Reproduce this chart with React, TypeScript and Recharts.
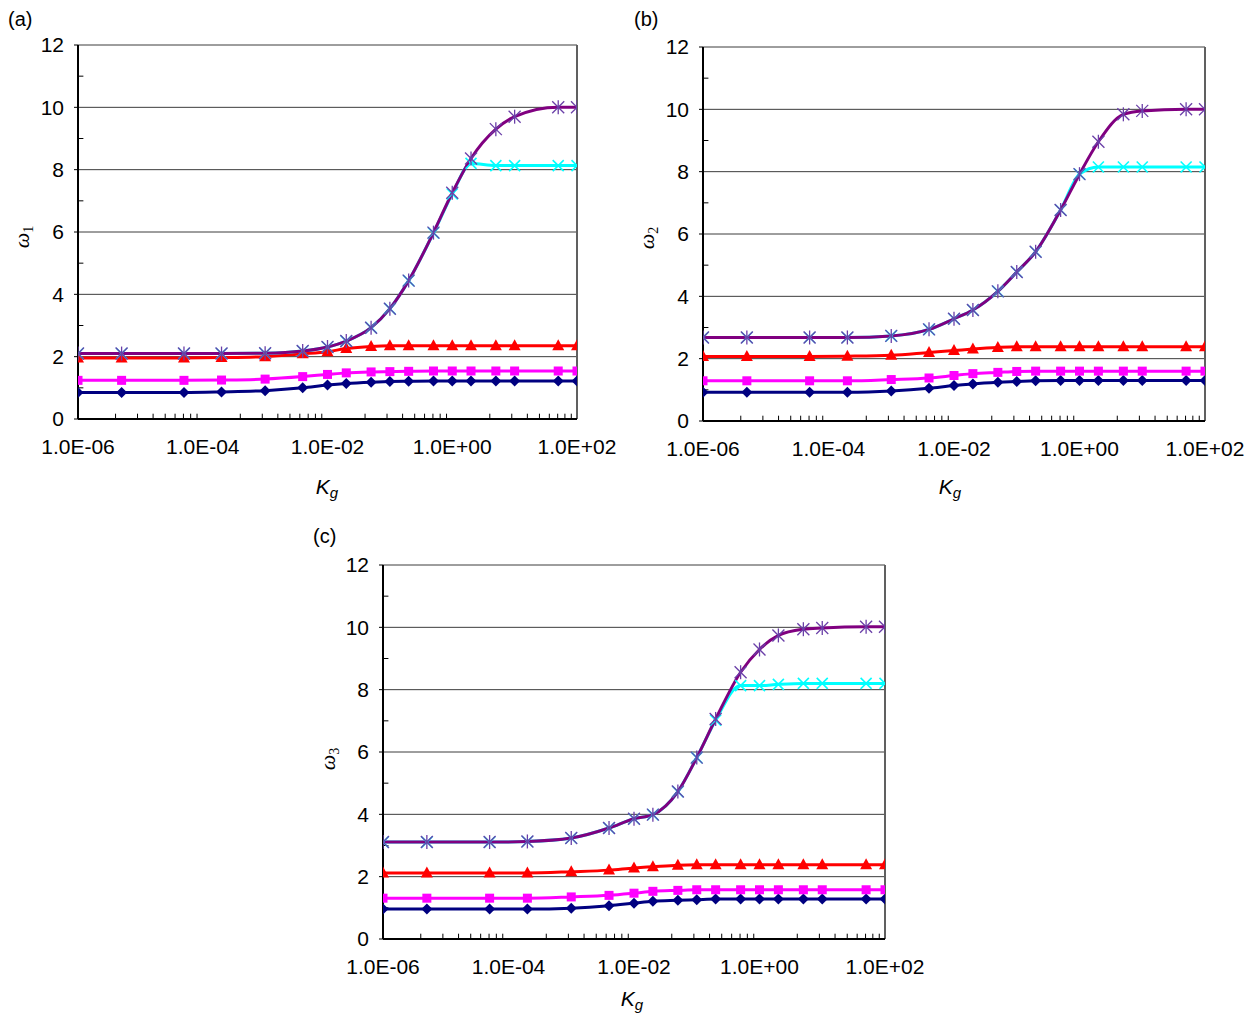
import { LineChart, Line, XAxis, YAxis, CartesianGrid, ReferenceLine } from 'recharts';

// K_g sample points (same for all three panels)
const KG = [1e-6, 5e-6, 5e-5, 2e-4, 1e-3, 4e-3, 1e-2, 2e-2, 5e-2, 0.1, 0.2, 0.5, 1, 2, 5, 10, 50, 100];

// panel (a) - omega_1
const A_NAVY = [0.85, 0.85, 0.85, 0.87, 0.91, 1.0, 1.09, 1.14, 1.18, 1.2, 1.21, 1.22, 1.22, 1.22, 1.22, 1.22, 1.22, 1.22];
const A_MAGENTA = [1.24, 1.24, 1.24, 1.25, 1.28, 1.36, 1.43, 1.48, 1.51, 1.52, 1.53, 1.54, 1.54, 1.54, 1.54, 1.54, 1.54, 1.54];
const A_RED = [1.96, 1.96, 1.96, 1.97, 2.0, 2.09, 2.16, 2.26, 2.33, 2.35, 2.35, 2.35, 2.35, 2.35, 2.35, 2.35, 2.35, 2.35];
const A_CYAN = [2.1, 2.1, 2.1, 2.1, 2.11, 2.18, 2.31, 2.5, 2.93, 3.54, 4.44, 5.97, 7.22, 8.2, 8.13, 8.13, 8.13, 8.13];
const A_PURPLE = [2.1, 2.1, 2.1, 2.1, 2.11, 2.18, 2.31, 2.5, 2.93, 3.54, 4.44, 5.98, 7.26, 8.36, 9.3, 9.7, 10.0, 10.0];

// panel (b) - omega_2
const B_NAVY = [0.92, 0.92, 0.92, 0.92, 0.96, 1.05, 1.14, 1.19, 1.24, 1.27, 1.29, 1.3, 1.3, 1.3, 1.3, 1.3, 1.3, 1.3];
const B_MAGENTA = [1.29, 1.29, 1.29, 1.29, 1.33, 1.38, 1.46, 1.52, 1.56, 1.59, 1.6, 1.6, 1.6, 1.6, 1.6, 1.6, 1.6, 1.6];
const B_RED = [2.07, 2.07, 2.07, 2.08, 2.11, 2.2, 2.26, 2.31, 2.36, 2.38, 2.38, 2.38, 2.38, 2.38, 2.38, 2.38, 2.38, 2.38];
const B_CYAN = [2.68, 2.68, 2.68, 2.68, 2.73, 2.94, 3.28, 3.56, 4.16, 4.78, 5.43, 6.77, 7.92, 8.15, 8.15, 8.15, 8.15, 8.15];
const B_PURPLE = [2.68, 2.68, 2.68, 2.68, 2.73, 2.94, 3.28, 3.56, 4.16, 4.78, 5.43, 6.77, 7.92, 8.96, 9.84, 9.95, 10.0, 10.0];

// panel (c) - omega_3
const C_NAVY = [0.96, 0.96, 0.96, 0.96, 0.99, 1.07, 1.15, 1.21, 1.24, 1.26, 1.28, 1.28, 1.28, 1.28, 1.28, 1.28, 1.28, 1.28];
const C_MAGENTA = [1.31, 1.31, 1.31, 1.31, 1.35, 1.4, 1.47, 1.53, 1.56, 1.58, 1.58, 1.58, 1.58, 1.58, 1.58, 1.58, 1.58, 1.58];
const C_RED = [2.12, 2.12, 2.12, 2.12, 2.16, 2.21, 2.28, 2.32, 2.37, 2.38, 2.38, 2.38, 2.38, 2.38, 2.38, 2.38, 2.38, 2.38];
const C_CYAN = [3.11, 3.11, 3.11, 3.13, 3.24, 3.56, 3.86, 3.99, 4.73, 5.82, 7.02, 8.13, 8.13, 8.17, 8.2, 8.2, 8.2, 8.2];
const C_PURPLE = [3.11, 3.11, 3.11, 3.13, 3.24, 3.56, 3.86, 3.99, 4.73, 5.82, 7.06, 8.56, 9.29, 9.74, 9.94, 9.98, 10.02, 10.02];

const X_MAJOR = [1e-6, 1e-4, 1e-2, 1, 100];
const Y_MAJOR = [0, 2, 4, 6, 8, 10, 12];
const Y_MINOR = [1, 3, 5, 7, 9, 11];
// excel log axis (base 100) minor marks at k^2 * major
const X_MINOR = [1e-6, 1e-4, 1e-2, 1].flatMap(m => [2, 3, 4, 5, 6, 7, 8, 9].map(k => m * k * k));

const FONT = '"Liberation Sans", Arial, sans-serif';

function fmtKg(v: number) {
    const e = Math.round(Math.log10(v));
    const s = e < 0 ? '-' : '+';
    return `1.0E${s}${String(Math.abs(e)).padStart(2, '0')}`;
}

const Diamond = (p: any) => {
    const { cx, cy, index } = p;
    if (cx == null || cy == null) return null;
    const r = 5.5;
    return <polygon key={`dm-${index}`} points={`${cx},${cy - r} ${cx + r},${cy} ${cx},${cy + r} ${cx - r},${cy}`} fill="#000080" />;
};

const Square = (p: any) => {
    const { cx, cy, index } = p;
    if (cx == null || cy == null) return null;
    return <rect key={`sq-${index}`} x={cx - 4.5} y={cy - 4.5} width={9} height={9} fill="#FF00FF" />;
};

const Triangle = (p: any) => {
    const { cx, cy, index } = p;
    if (cx == null || cy == null) return null;
    return <polygon key={`tr-${index}`} points={`${cx},${cy - 6.5} ${cx + 6},${cy + 4.5} ${cx - 6},${cy + 4.5}`} fill="#FF0000" />;
};

const Cross = (p: any) => {
    const { cx, cy, index } = p;
    if (cx == null || cy == null) return null;
    const r = 5.5;
    return (
        <g key={`cx-${index}`} stroke="#00FFFF" strokeWidth={1.6}>
            <line x1={cx - r} y1={cy - r} x2={cx + r} y2={cy + r} />
            <line x1={cx - r} y1={cy + r} x2={cx + r} y2={cy - r} />
        </g>
    );
};

const Star = (p: any) => {
    const { cx, cy, index } = p;
    if (cx == null || cy == null) return null;
    const r = 6;
    return (
        <g key={`st-${index}`} stroke="#6a3fa8" strokeWidth={1.3}>
            <line x1={cx - r} y1={cy - r} x2={cx + r} y2={cy + r} />
            <line x1={cx - r} y1={cy + r} x2={cx + r} y2={cy - r} />
            <line x1={cx} y1={cy - r - 1} x2={cx} y2={cy + r + 1} />
        </g>
    );
};

type PanelProps = {
    plot: { l: number, t: number, r: number, b: number },
    navy: number[], magenta: number[], red: number[], cyan: number[], purple: number[],
};

function Panel({ plot, navy, magenta, red, cyan, purple }: PanelProps) {
    const rows = KG.map((k, i) => ({
        kg: k, navy: navy[i], magenta: magenta[i], red: red[i], cyan: cyan[i], purple: purple[i],
    }));
    const width = plot.r - plot.l + 78 + 48;
    const height = plot.b - plot.t + 45 + 51;
    const yUnit = (plot.b - plot.t) / 12;
    const minorYLen = 0.17 * (31.17 / yUnit);

    return (
        <div style={{ position: 'absolute', left: plot.l - 78, top: plot.t - 45 }}>
            <LineChart width={width} height={height} data={rows}
                margin={{ top: 45, right: 48, left: 28, bottom: 11 }}>
                <CartesianGrid vertical={false} stroke="#3c3c3c" />
                <XAxis dataKey="kg" type="number" scale="log" domain={[1e-6, 100]} allowDataOverflow
                    ticks={X_MAJOR} interval={0} tickFormatter={fmtKg} height={40}
                    tickLine={false} tickSize={0} tickMargin={20}
                    axisLine={{ stroke: '#000', strokeWidth: 2 }}
                    tick={{ fill: '#000', fontSize: 21, fontFamily: FONT }} />
                <YAxis type="number" domain={[0, 12]} ticks={Y_MAJOR} interval={0} width={50}
                    tickSize={4} tickMargin={10} tickLine={{ stroke: '#000' }}
                    axisLine={{ stroke: '#000', strokeWidth: 2 }}
                    tick={{ fill: '#000', fontSize: 21, fontFamily: FONT }} />
                <ReferenceLine x={100} stroke="#606060" strokeWidth={2} />
                {X_MINOR.map(v => (
                    <ReferenceLine key={`mx-${v}`} segment={[{ x: v, y: 0 }, { x: v, y: minorYLen }]}
                        stroke="#000" strokeWidth={1} />
                ))}
                {Y_MINOR.map(v => (
                    <ReferenceLine key={`my-${v}`} segment={[{ x: 1e-6, y: v }, { x: 1.22e-6, y: v }]}
                        stroke="#000" strokeWidth={1} />
                ))}
                <Line type="monotone" dataKey="navy" stroke="#000080" strokeWidth={3} dot={Diamond} activeDot={false} isAnimationActive={false} />
                <Line type="monotone" dataKey="magenta" stroke="#FF00FF" strokeWidth={3} dot={Square} activeDot={false} isAnimationActive={false} />
                <Line type="monotone" dataKey="red" stroke="#FF0000" strokeWidth={3} dot={Triangle} activeDot={false} isAnimationActive={false} />
                <Line type="monotone" dataKey="cyan" stroke="#00FFFF" strokeWidth={3} dot={Cross} activeDot={false} isAnimationActive={false} />
                <Line type="monotone" dataKey="purple" stroke="#800080" strokeWidth={3} dot={Star} activeDot={false} isAnimationActive={false} />
            </LineChart>
        </div>
    );
}

function Tag({ x, y, text }: { x: number, y: number, text: string }) {
    return (
        <div style={{ position: 'absolute', left: x, top: y, transform: 'translateY(-50%)', fontFamily: FONT, fontSize: 20, lineHeight: 1 }}>
            {text}
        </div>
    );
}

function YTitle({ x, y, sub }: { x: number, y: number, sub: string }) {
    return (
        <div style={{
            position: 'absolute', left: x, top: y, transform: 'translate(-50%, -50%) rotate(-90deg)',
            fontFamily: '"Liberation Serif", "Times New Roman", serif', fontSize: 22, lineHeight: 1, whiteSpace: 'nowrap',
        }}>
            <i>ω</i><span style={{ fontSize: 14, position: 'relative', top: 4 }}>{sub}</span>
        </div>
    );
}

function XTitle({ x, y }: { x: number, y: number }) {
    return (
        <div style={{
            position: 'absolute', left: x, top: y, transform: 'translate(-50%, -50%)',
            fontFamily: FONT, fontSize: 21, lineHeight: 1, whiteSpace: 'nowrap', fontStyle: 'italic',
        }}>
            K<span style={{ fontSize: 15, position: 'relative', top: 4 }}>g</span>
        </div>
    );
}

export default function App() {
    return (
        <div style={{ position: 'absolute', left: 0, top: 0, width: 1259, height: 1015, background: '#fff', overflow: 'hidden' }}>
            <Panel plot={{ l: 78, t: 45, r: 577, b: 419 }}
                navy={A_NAVY} magenta={A_MAGENTA} red={A_RED} cyan={A_CYAN} purple={A_PURPLE} />
            <Panel plot={{ l: 703, t: 47, r: 1205, b: 421 }}
                navy={B_NAVY} magenta={B_MAGENTA} red={B_RED} cyan={B_CYAN} purple={B_PURPLE} />
            <Panel plot={{ l: 383, t: 565, r: 885, b: 939 }}
                navy={C_NAVY} magenta={C_MAGENTA} red={C_RED} cyan={C_CYAN} purple={C_PURPLE} />

            <Tag x={8} y={19} text="(a)" />
            <Tag x={634} y={19} text="(b)" />
            <Tag x={313} y={536} text="(c)" />

            <YTitle x={22} y={237} sub="1" />
            <YTitle x={647} y={238} sub="2" />
            <YTitle x={328} y={759} sub="3" />

            <XTitle x={327} y={486} />
            <XTitle x={950} y={486} />
            <XTitle x={632} y={998} />
        </div>
    );
}
